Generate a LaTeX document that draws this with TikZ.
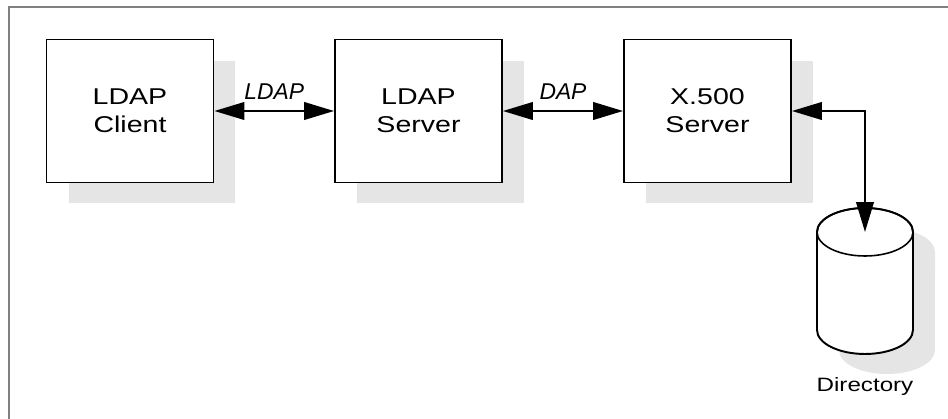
\documentclass[tikz,border=0pt]{standalone}
\usepackage{fontspec}
\setmainfont{Liberation Sans}
\newfontfamily\largo{Liberation Sans}[FakeStretch=1.25]
\usetikzlibrary{arrows.meta,shadows}
\definecolor{ombra}{gray}{0.9}
\definecolor{cornice}{gray}{0.5}
\begin{document}
\begin{tikzpicture}[x=0.02cm, y=-0.02cm, line width=1.1pt,
	>={Triangle[length=17pt,width=10pt]},
	ombreggiata/.style={drop shadow={shadow xshift=0.44cm, shadow yshift=-0.42cm, fill=ombra, opacity=1}},
	scatola/.style={draw, fill=white, ombreggiata, minimum width=3.34cm, minimum height=2.86cm,
		inner sep=0pt, align=center, font=\largo\fontsize{13}{16}\selectfont},
	protocollo/.style={above=6pt, inner sep=0pt, font=\fontsize{13}{14}\selectfont\itshape},
	raggi/.style={x radius=0.96cm, y radius=0.48cm}]
	% Dimensioni della figura
	\useasboundingbox (0,0) rectangle (948,419);
	\def\cilindro{(817,232) -- (817,330) arc[start angle=180, end angle=360, raggi]
		-- (913,232) arc[start angle=0, end angle=180, raggi] -- cycle}
	
	% --- Cornice ---
	\draw[cornice, line width=0.6pt] (948,7) -- (9,7) -- (9,419);
	
	% --- Blocchi ---
	\node[scatola] (client) at (130,111) {LDAP\\Client};
	\node[scatola] (ldapserver) at (418.5,111) {LDAP\\Server};
	\node[scatola] (xserver) at (707.5,111) {X.500\\Server};
	
	% --- Directory ---
	\fill[ombra, shift={(22,20)}] \cilindro;
	\draw[fill=white] \cilindro;
	\draw[line width=0.9pt] (865,232) ellipse[raggi];
	\coordinate (dirtop) at (865,232);
	\coordinate (dirbottom) at (865,354);
	\node[anchor=base, font=\largo\fontsize{11}{12}\selectfont] (dirlabel) at ([yshift=-0.75cm]dirbottom) {Directory};
	
	% --- Collegamenti ---
	\draw[<->] (client.east) -- (ldapserver.west) node[midway, protocollo] {LDAP};
	\draw[<->] (ldapserver.east) -- (xserver.west) node[midway, protocollo] {DAP};
	\draw[<->] (xserver.east) -| (dirtop);
\end{tikzpicture}
\end{document}
